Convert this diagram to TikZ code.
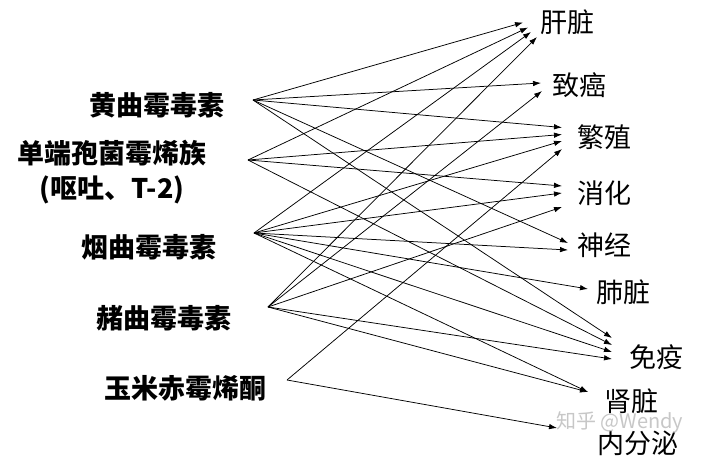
\documentclass[tikz,border=0pt]{standalone}
\usepackage{fontspec}
\setmainfont{Noto Sans CJK SC}
\usetikzlibrary{arrows.meta}
\begin{document}
\begin{tikzpicture}[x=1pt,y=-1pt,
  src/.style={font=\fontsize{27}{35}\selectfont\bfseries, inner sep=0pt, anchor=west},
  tgt/.style={font=\fontsize{27}{32}\selectfont, inner sep=0pt, anchor=west},
  link/.style={-{Latex[length=8pt,width=5.5pt]}, line width=0.75pt, black},
  wm/.style={font=\fontsize{20}{24}\selectfont, text=black!22, inner sep=0pt, anchor=west, text height=11pt, text depth=0pt}]
\useasboundingbox (0,0) rectangle (707,458);
\fill[white] (0,0) rectangle (707,458);

% source labels
\node[src] (a1) at (89,105) {黄曲霉毒素};
\node[src, anchor=center, align=center] (a2) at (112,172.5) {单端孢菌霉烯族\\(呕吐、T-2)};
\node[src] (a3) at (81,247) {烟曲霉毒素};
\node[src] (a4) at (96,318) {赭曲霉毒素};
\node[src] (a5) at (104,388) {玉米赤霉烯酮};

% target labels
\node[tgt] (b1) at (540,22) {肝脏};
\node[tgt] (b2) at (552,85) {致癌};
\node[tgt] (b3) at (577,137) {繁殖};
\node[tgt] (b4) at (577,193) {消化};
\node[tgt] (b5) at (577,245) {神经};
\node[tgt] (b6) at (596,292) {肺脏};
\node[tgt] (b7) at (629,357) {免疫};
\node[tgt] (b8) at (604,401) {肾脏};
\node[tgt] (b9) at (597,443) {内分泌};

% line starts
\coordinate (s1) at (253,100);
\coordinate (s2) at (248,160);
\coordinate (s3) at (254,233);
\coordinate (s4) at (268,307);
\coordinate (s5) at (287,380);

% arrow tips
\coordinate (lv1) at (523,22.5);
\coordinate (lv2) at (528,27.5);
\coordinate (lv3) at (531,32);
\coordinate (lv4) at (537,37);
\coordinate (ca1) at (541,83);
\coordinate (ca2) at (542,91);
\coordinate (fz1) at (562,127.5);
\coordinate (fz2) at (562,134.5);
\coordinate (fz3) at (562,141);
\coordinate (fz4) at (562,149);
\coordinate (xh1) at (562,186);
\coordinate (xh2) at (562,193);
\coordinate (xh3) at (562,207);
\coordinate (sj1) at (568,243);
\coordinate (sj2) at (568,250);
\coordinate (fe1) at (588,289);
\coordinate (my1) at (612,338);
\coordinate (my2) at (612,345);
\coordinate (my3) at (612,352);
\coordinate (my4) at (612,359);
\coordinate (sz1) at (588,392);
\coordinate (nf1) at (557,428);

% 黄曲霉毒素
\draw[link] (s1) -- (lv1);
\draw[link] (s1) -- (ca1);
\draw[link] (s1) -- (fz1);
\draw[link] (s1) -- (sj1);
\draw[link] (s1) -- (my1);
% 单端孢菌霉烯族
\draw[link] (s2) -- (lv2);
\draw[link] (s2) -- (fz2);
\draw[link] (s2) -- (xh1);
\draw[link] (s2) -- (my2);
% 烟曲霉毒素
\draw[link] (s3) -- (lv3);
\draw[link] (s3) -- (fz3);
\draw[link] (s3) -- (xh2);
\draw[link] (s3) -- (sj2);
\draw[link] (s3) -- (fe1);
\draw[link] (s3) -- (my3);
\draw[link] (s3) -- (sz1);
% 赭曲霉毒素
\draw[link] (s4) -- (lv4);
\draw[link] (s4) -- (ca2);
\draw[link] (s4) -- (xh3);
\draw[link] (s4) -- (my4);
\draw[link] (s4) -- (sz1);
% 玉米赤霉烯酮
\draw[link] (s5) -- (fz4);
\draw[link] (s5) -- (nf1);

% watermark
\node[wm] (w) at (556,423) {知乎 @Wendy};
\end{tikzpicture}
\end{document}
